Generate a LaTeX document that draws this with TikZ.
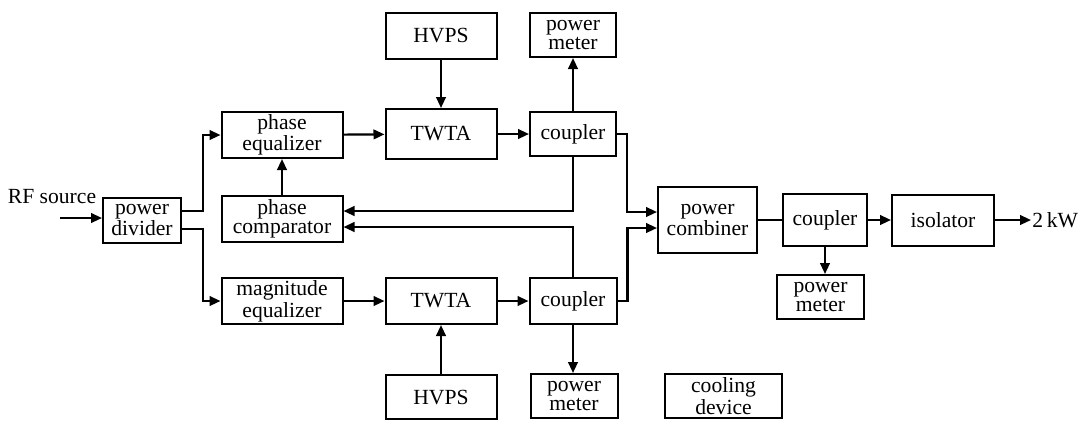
\documentclass[tikz,border=0pt]{standalone}
\usepackage{fontspec}
\setmainfont{Liberation Serif}
\usetikzlibrary{arrows.meta, positioning, calc}

\begin{document}
\begin{tikzpicture}[x=0.5pt, y=-0.5pt, font=\fontsize{10.8pt}{9.5pt}\selectfont,
    blk/.style={draw, line width=1pt, align=center, inner sep=0pt},
    arr/.style={line width=1.1pt, -{Triangle[length=5.5pt,width=4.8pt]}},
    wire/.style={line width=1.1pt}]
    \useasboundingbox (0,0) rectangle (1081,420);
    % input side
    \node[blk, minimum width=39pt, minimum height=22.5pt] (div) at (142,220) {power\\divider};
    \node (rf) at (52,197) {RF source};
    \coordinate (rfin) at (60,218);
    \node[blk, minimum width=60.5pt, minimum height=23pt] (peq) at (282,135) {phase\\equalizer};
    \node[blk, minimum width=60.5pt, minimum height=23pt] (pcmp) at (282,219) {phase\\comparator};
    \node[blk, minimum width=60.5pt, minimum height=23pt] (meq) at (282,301) {magnitude\\equalizer};
    % amplifiers
    \node[blk, minimum width=55.5pt, minimum height=25pt] (twtaA) at (441,134) {TWTA};
    \node[blk, minimum width=55.5pt, minimum height=23pt] (twtaB) at (441,301) {TWTA};
    \node[blk, minimum width=55.5pt, minimum height=23pt] (hvpsA) at (441,36) {HVPS};
    \node[blk, minimum width=55.5pt, minimum height=22pt] (hvpsB) at (441,397) {HVPS};
    % couplers and meters
    \node[blk, minimum width=43pt, minimum height=22pt] (cplA) at (573,134) {coupler};
    \node[blk, minimum width=43pt, minimum height=22pt] (pmA) at (573,35) {power\\meter};
    \node[blk, minimum width=43.5pt, minimum height=23pt] (cplB) at (573,301) {coupler};
    \node[blk, minimum width=43.5pt, minimum height=22pt] (pmB) at (574,396) {power\\meter};
    % output side
    \node[blk, minimum width=49.5pt, minimum height=33pt] (comb) at (707.5,220) {power\\combiner};
    \node[blk, minimum width=42pt, minimum height=26pt] (cplC) at (825,220) {coupler};
    \node[blk, minimum width=43.5pt, minimum height=22pt] (pmC) at (820.5,297) {power\\meter};
    \node[blk, minimum width=51pt, minimum height=25.5pt] (iso) at (943,220) {isolator};
    \node[blk, minimum width=58.5pt, minimum height=22pt] (cool) at (723.5,396) {cooling\\device};
    \coordinate (out) at (1031,220);
    \node[anchor=west, inner sep=0.5pt] (pout) at (out) {2\,kW};

    \draw[arr] (rfin) -- (rfin -| div.west);
    \draw[arr] ([yshift=4.5pt]div.east) -- ++(21,0) |- (peq.west);
    \draw[arr] ([yshift=-4.5pt]div.east) -- ++(21,0) |- (meq.west);
    \draw[arr] (peq) -- (twtaA);
    \draw[arr] (hvpsA) -- (twtaA);
    \draw[arr] (twtaA) -- (cplA);
    \draw[arr] (cplA) -- (pmA);
    \draw[arr] (pcmp) -- (peq);
    \draw[arr] (meq) -- (twtaB);
    \draw[arr] (hvpsB) -- (twtaB);
    \draw[arr] (twtaB) -- (cplB);
    \draw[arr] (cplB.south) -- (cplB.south |- pmB.north);
    % feedback to comparator
    \draw[arr] (cplA.south) |- ([yshift=4pt]pcmp.east);
    \draw[arr] (cplB.north) |- ([yshift=-4pt]pcmp.east);
    % combining
    \draw[arr] (cplA.east) -- ++(10,0) |- ([yshift=4pt]comb.west);
    \draw[arr] (cplB.east) -- ++(10,0) |- ([yshift=-4pt]comb.west);
    \draw[wire] (comb) -- (cplC);
    \draw[arr] (cplC) -- (iso);
    \draw[arr] (cplC.south) -- (cplC.south |- pmC.north);
    \draw[arr] (iso.east) -- (out);
\end{tikzpicture}
\end{document}
